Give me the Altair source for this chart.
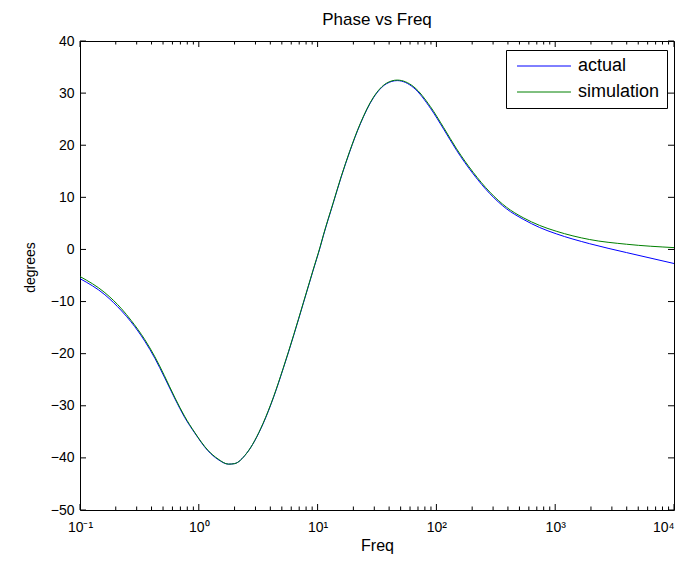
import altair as alt
import pandas as pd

# ---- data ----
freq = [0.1, 0.162, 0.224, 0.269, 0.351, 0.427, 0.513, 0.631, 0.759, 0.923,
        1.19, 1.45, 1.78, 2.0, 2.51, 3.47, 4.27, 5.13, 6.31, 7.59, 9.12,
        10.5, 11.2, 13.5, 15.8, 18.6, 22.9, 29.5, 38.0, 46.8, 64.6, 89.1,
        115, 148, 204, 282, 389, 537, 741, 1020, 1950, 3980, 10000]
actual = [-5.6, -8.7, -11.8, -13.9, -17.6, -20.9, -24.5, -28.7, -32.2, -35.2,
          -38.6, -40.3, -41.2, -41.1, -39.2, -33.5, -28.3, -22.9, -16.4, -10.3, -4.2,
          0.4, 2.7, 8.8, 13.9, 18.7, 24.1, 29.1, 31.8, 32.4, 31.0, 27.1,
          23.1, 19.0, 14.5, 10.7, 7.8, 5.8, 4.2, 3.0, 1.1, -0.6, -2.7]
simulation = [-5.2, -8.3, -11.4, -13.6, -17.3, -20.6, -24.2, -28.5, -32.0, -35.1,
              -38.5, -40.2, -41.2, -41.1, -39.2, -33.4, -28.2, -22.8, -16.3, -10.2, -4.1,
              0.5, 2.8, 8.9, 14.0, 18.8, 24.2, 29.2, 31.9, 32.5, 31.2, 27.4,
              23.4, 19.3, 14.8, 11.0, 8.1, 6.1, 4.6, 3.5, 1.9, 1.0, 0.35]
series_names = ["actual", "simulation"]
series_colors = ["#0000ff", "#008000"]

x_major = [0.1, 1, 10, 100, 1000, 10000]
x_major_labels = ["10\u207b\u00b9", "10\u2070", "10\u00b9", "10\u00b2", "10\u00b3", "10\u2074"]
x_minor = [m * d for d in [0.1, 1, 10, 100, 1000] for m in range(2, 10)]
y_ticks = [-50, -40, -30, -20, -10, 0, 10, 20, 30, 40]

W, H = 594, 469
FONT = "Liberation Sans"

rows = []
for name, vals in zip(series_names, [actual, simulation]):
    for f, v in zip(freq, vals):
        rows.append({"freq": f, "phase": v, "series": name})
df = pd.DataFrame(rows)

xscale = alt.Scale(type="log", domain=[0.1, 10000], nice=False)
yscale = alt.Scale(domain=[-50, 40], nice=False)

label_expr = " : ".join(
    f"datum.value == {v} ? '{lab}'" for v, lab in zip(x_major, x_major_labels)
) + " : ''"

lines = alt.Chart(df).mark_line(strokeWidth=1, interpolate="monotone").encode(
    x=alt.X("freq:Q", scale=xscale,
            axis=alt.Axis(values=x_major, labelExpr=label_expr, ticks=False, domain=False,
                          grid=False, labelFontSize=14, labelPadding=10, labelFont=FONT,
                          labelFlush=False,
                          labelAlign=alt.condition(f"datum.value == {x_major[-1]}",
                                                   alt.value("right"), alt.value("center")),
                          labelColor="black", title="Freq",
                          titleFont=FONT, titleFontSize=16, titleFontWeight="normal",
                          titleColor="black", titlePadding=3)),
    y=alt.Y("phase:Q", scale=yscale,
            axis=alt.Axis(values=y_ticks, ticks=False, domain=False, grid=False,
                          labelFontSize=14, labelPadding=6, labelFont=FONT, labelColor="black",
                          labelFlush=False, title="degrees", titleFont=FONT, titleFontSize=14,
                          titleFontWeight="normal", titleColor="black",
                          titleX=-43, titleY=226, titleBaseline="bottom", titleAngle=270)),
    color=alt.Color("series:N",
                    scale=alt.Scale(domain=series_names, range=series_colors),
                    legend=alt.Legend(title=None, orient="none", legendX=426, legendY=9,
                                      symbolType="M-4,0H4", symbolSize=182,
                                      symbolStrokeWidth=1, symbolOffset=22,
                                      labelFontSize=18, labelFont=FONT,
                                      labelColor="black", strokeColor="black",
                                      fillColor="white", padding=7, rowPadding=8,
                                      labelOffset=25)),
)

dfx_major = pd.DataFrame({"v": x_major})
dfx_minor = pd.DataFrame({"v": x_minor})
dfy = pd.DataFrame({"v": y_ticks})

def xticks(data, length):
    base = alt.Chart(data)
    bottom = base.mark_rule(color="black", strokeWidth=1).encode(
        x=alt.X("v:Q", scale=xscale, axis=None), y=alt.value(H), y2=alt.value(H - length))
    top = base.mark_rule(color="black", strokeWidth=1).encode(
        x=alt.X("v:Q", scale=xscale, axis=None), y=alt.value(0), y2=alt.value(length))
    return [bottom, top]

ybase = alt.Chart(dfy)
yleft = ybase.mark_rule(color="black", strokeWidth=1).encode(
    y=alt.Y("v:Q", scale=yscale, axis=None), x=alt.value(0), x2=alt.value(6))
yright = ybase.mark_rule(color="black", strokeWidth=1).encode(
    y=alt.Y("v:Q", scale=yscale, axis=None), x=alt.value(W), x2=alt.value(W - 6))

chart = alt.layer(
    lines, *xticks(dfx_major, 6), *xticks(dfx_minor, 3.5), yleft, yright
).resolve_axis(
    x="independent", y="independent"
).properties(
    width=W, height=H,
    title=alt.Title("Phase vs Freq", fontSize=17, fontWeight="normal", font=FONT,
                    color="black", offset=5),
    autosize=alt.AutoSizeParams(type="none"),
    padding={"left": 72, "top": 33, "right": 3, "bottom": 46},
    background="white",
).configure_view(stroke="black", strokeWidth=1)

chart.save("out.html", embed_options={"renderer": "svg", "actions": False})
